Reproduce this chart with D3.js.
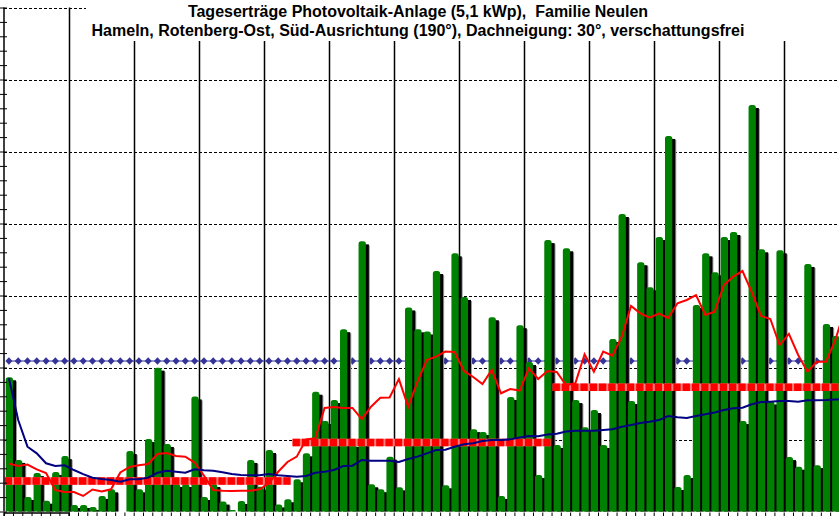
<!DOCTYPE html>
<html>
<head>
<meta charset="utf-8">
<script src="https://cdn.jsdelivr.net/npm/d3@7"></script>
<style>
  body { margin: 0; background: #fff; }
  svg { display: block; }
</style>
</head>
<body>
<div id="chart"></div>
<script>
const width = 839
const height = 516

// Tageserträge in kWh, 1. Januar .. 31. März
const dailyYield = [
  9.32, 3.58, 1.01, 2.67, 0.75, 2.74, 3.85, 0.45, 0.45, 0.31,
  1.08, 1.54, 0, 4.20, 1.54, 5.03, 9.99, 4.69, 1.91, 1.91,
  7.99, 1.01, 1.91, 0.69, 0.10, 0.73, 3.58, 1.72, 4.27, 0.49,
  0.85,
  2.24, 4.04, 8.32, 6.28, 7.74, 12.66, 4.69, 18.76, 1.89, 1.55,
  3.81, 1.68, 14.17, 12.65, 12.50, 16.70, 1.82, 17.93, 14.90, 5.72,
  5.52, 13.49, 1.08, 7.95, 12.94, 10.38, 2.53, 18.85,
  4.62, 18.28, 7.74, 5.85, 7.05, 4.62, 11.98, 20.66, 7.67, 17.31,
  15.57, 19.06, 26.08, 1.70, 2.53, 14.34, 17.93, 16.61, 19.06, 19.41,
  6.28, 28.23, 18.21, 7.64, 18.14, 3.78, 3.11, 17.19, 3.22, 13.02,
  12.19
]

// gleitender Mittelwert (rote Linie), letzter Punkt liegt schon im April
const movingAvg = [
  3.33, 3.16, 3.26, 2.92, 2.67, 1.49, 1.35, 1.35, 1.08, 1.53,
  1.39, 1.54, 2.71, 3.09, 3.21, 3.30, 3.99, 4.06, 3.85, 3.81,
  3.40, 2.50, 1.49, 1.44, 1.42, 1.44, 1.44, 1.54, 1.96, 2.76,
  3.44, 3.81, 5.00, 5.08, 7.19, 7.26, 7.19, 7.19, 6.42, 7.28,
  7.90, 7.92, 9.19, 7.28, 9.01, 10.52, 10.75, 11.11, 11.08, 9.76,
  9.34, 8.85, 9.83, 8.21, 8.51, 8.40, 9.94, 9.20, 9.76, 9.69,
  8.78, 8.90, 10.92, 9.71, 11.10, 10.82, 12.14, 14.27, 13.76, 13.46,
  13.74, 13.44, 14.46, 14.69, 15.03, 13.65, 13.88, 15.73, 16.31, 16.70,
  15.24, 13.58, 13.37, 11.56, 12.33, 10.87, 9.71, 10.40, 10.40, 11.91,
  14.0
]

// Durchschnitt seit Jahresbeginn (blaue Linie)
const cumAvg = [
  9.25, 6.35, 4.50, 4.04, 3.35, 3.16, 3.21, 2.88, 2.60, 2.35,
  2.26, 2.19, 2.07, 2.24, 2.24, 2.35, 2.69, 2.83, 2.76, 2.69,
  2.93, 2.86, 2.83, 2.72, 2.60, 2.53, 2.51, 2.51, 2.60, 2.51,
  2.47, 2.42, 2.47, 2.69, 2.76, 2.88, 3.16, 3.18, 3.58, 3.53,
  3.53, 3.53, 3.44, 3.65, 3.81, 4.04, 4.27, 4.29, 4.50, 4.67,
  4.74, 4.90, 4.97, 4.97, 5.01, 5.14, 5.24, 5.22, 5.35, 5.40,
  5.56, 5.61, 5.61, 5.61, 5.66, 5.71, 5.89, 6.01, 6.15, 6.24,
  6.35, 6.63, 6.54, 6.49, 6.63, 6.75, 6.88, 7.05, 7.17, 7.21,
  7.45, 7.60, 7.63, 7.67, 7.67, 7.63, 7.73, 7.72, 7.74, 7.78,
  7.79
]

// Soll-Werte je Monat (rote Balkenlinie)
const months = ["Januar", "Februar", "März"]
const monthStart = [0, 31, 59]
const monthDays = [31, 28, 31]
const monthTarget = [2.12, 4.79, 8.63]

// Jahresdurchschnitt (blaue Rauten)
const yearAvg = 10.45

const titleLines = [
  "Tageserträge Photovoltaik-Anlage (5,1 kWp),  Familie Neulen",
  "Hameln, Rotenberg-Ost, Süd-Ausrichtung (190°), Dachneigung: 30°, verschattungsfrei"
]

const nDays = 91
const x = d3.scaleLinear().domain([0, 7]).range([3.7, 68.7])
const y = d3.scaleLinear().domain([0, 35]).range([511.5, 7.5])
const dayMid = i => x(i) + 5.2
const barW = 7.3

const svg = d3.select("#chart")
    .append("svg")
    .attr("width", width)
    .attr("height", height)
    .style("background-color", "#ffffff");

// horizontal dashed grid
svg.append("g")
    .selectAll("line")
    .data(d3.range(5, 36, 5))
    .enter()
    .append("line")
    .attr("x1", 4)
    .attr("x2", width)
    .attr("y1", d => Math.round(y(d)) + 0.5)
    .attr("y2", d => Math.round(y(d)) + 0.5)
    .attr("stroke", "#000")
    .attr("stroke-width", 1)
    .attr("stroke-dasharray", "3,2");

// weekly vertical lines
svg.append("g")
    .selectAll("line")
    .data(d3.range(7, nDays, 7))
    .enter()
    .append("line")
    .attr("x1", d => Math.round(x(d)) + 0.5)
    .attr("x2", d => Math.round(x(d)) + 0.5)
    .attr("y1", y(35))
    .attr("y2", y(0))
    .attr("stroke", "#000")
    .attr("stroke-width", 1.5);

// diamonds: year average
const avgLine = d3.line().x((d, i) => dayMid(i)).y(d => y(d))
svg.append("path")
    .attr("d", avgLine(d3.range(nDays).map(() => yearAvg)))
    .attr("fill", "none")
    .attr("stroke", "#333399")
    .attr("stroke-width", 1);
svg.append("g")
    .selectAll("path")
    .data(d3.range(nDays))
    .enter()
    .append("path")
    .attr("transform", d => `translate(${dayMid(d)},${y(yearAvg)})`)
    .attr("d", "M0,-3.8L3.5,0L0,3.8L-3.5,0Z")
    .attr("fill", "#333399");

// bars with shadow and rounded top
function barPath(x0, w, y0, y1, r) {
    r = Math.min(r, (y1 - y0))
    return `M${x0},${y1}V${y0 + r}Q${x0},${y0} ${x0 + r},${y0}H${x0 + w - r}Q${x0 + w},${y0} ${x0 + w},${y0 + r}V${y1}Z`
}
const bar = svg.append("g")
    .selectAll("g")
    .data(dailyYield.map((v, i) => ({ day: i, value: v })).filter(d => d.value > 0))
    .enter()
    .append("g")
    .attr("transform", d => `translate(${x(d.day) + 2},0)`);
bar.append("rect")
    .attr("x", 4)
    .attr("y", d => Math.min(y(d.value) + 4, y(0)))
    .attr("width", barW)
    .attr("height", d => Math.max(0, y(0) - y(d.value) - 4))
    .attr("fill", "#9a9a9a");
bar.append("rect")
    .attr("x", 3)
    .attr("y", d => Math.min(y(d.value) + 3, y(0)))
    .attr("width", barW)
    .attr("height", d => Math.max(0, y(0) - y(d.value) - 3))
    .attr("fill", "#000");
bar.append("path")
    .attr("d", d => barPath(0, barW, y(d.value), y(0), 2.5))
    .attr("fill", "#008000");

// monthly target
const target = svg.append("g")
    .selectAll("g")
    .data(months.map((m, k) => ({ start: monthStart[k], days: monthDays[k], value: monthTarget[k] })))
    .enter()
    .append("g");
target.append("line")
    .attr("x1", d => x(d.start) + 1)
    .attr("x2", d => x(d.start + d.days) - 1)
    .attr("y1", d => y(d.value))
    .attr("y2", d => y(d.value))
    .attr("stroke", "#ff7f7f")
    .attr("stroke-width", 7.5);
target.append("line")
    .attr("x1", d => x(d.start) + 1)
    .attr("x2", d => x(d.start + d.days) - 1)
    .attr("y1", d => y(d.value))
    .attr("y2", d => y(d.value))
    .attr("stroke", "#ff0000")
    .attr("stroke-width", 7.5)
    .attr("stroke-dasharray", `7.3,${(65 / 7 - 7.3).toFixed(2)}`);

// moving average (red) and cumulative average (blue)
const line = d3.line().x((d, i) => dayMid(i)).y(d => y(d))
svg.append("path")
    .attr("d", line(movingAvg))
    .attr("fill", "none")
    .attr("stroke", "#ff0000")
    .attr("stroke-width", 2);
svg.append("path")
    .attr("d", line(cumAvg))
    .attr("fill", "none")
    .attr("stroke", "#000080")
    .attr("stroke-width", 2);

// axes
svg.append("g")
    .attr("transform", "translate(7,0)")
    .call(d3.axisLeft(y).ticks(35).tickSize(7).tickFormat(""))
    .call(g => g.select(".domain").remove());
svg.append("line")
    .attr("x1", 4).attr("x2", 4)
    .attr("y1", y(35)).attr("y2", y(0))
    .attr("stroke", "#000")
    .attr("stroke-width", 1.5);
svg.append("g")
    .attr("transform", `translate(0,${y(0) + 1})`)
    .call(d3.axisBottom(x).tickValues(d3.range(0, nDays)).tickSize(5).tickFormat(""))
    .call(g => g.select(".domain").attr("stroke-width", 1.5));

// title
svg.append("rect")
    .attr("x", 86).attr("y", 0)
    .attr("width", width - 86).attr("height", 41)
    .attr("fill", "#ffffff");
svg.append("g")
    .selectAll("text")
    .data(titleLines)
    .enter()
    .append("text")
    .attr("x", 418)
    .attr("y", (d, i) => 17 + i * 19)
    .attr("text-anchor", "middle")
    .style("white-space", "pre")
    .style("font-family", "'Liberation Sans', Arial, sans-serif")
    .style("font-weight", "bold")
    .style("font-size", "16px")
    .text(d => d);
</script>
</body>
</html>
